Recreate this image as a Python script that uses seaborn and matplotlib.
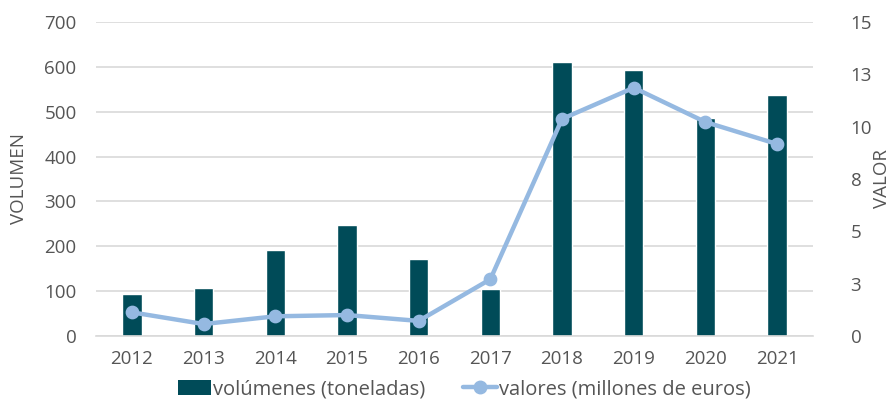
import matplotlib
matplotlib.use("Agg")
import matplotlib.pyplot as plt
import seaborn as sns
import pandas as pd
from matplotlib.ticker import FixedLocator, FuncFormatter, MultipleLocator
from matplotlib.patches import Patch
from matplotlib.lines import Line2D

years = ["2012", "2013", "2014", "2015", "2016", "2017", "2018", "2019", "2020", "2021"]
volumes = [94, 108, 191, 247, 171, 104, 610, 594, 485, 537]
values = [1.13, 0.57, 0.94, 1.0, 0.72, 2.71, 10.37, 11.86, 10.22, 9.17]

bar_color = "#004B58"
line_color = "#95B9E1"
text_color = "#555555"
grid_color = "#D9D9D9"

sns.set_theme(style="white")
plt.rcParams["font.family"] = ["Open Sans", "DejaVu Sans"]

df = pd.DataFrame({"year": years, "volume": volumes, "value": values})

fig = plt.figure(figsize=(8.94, 4.03), dpi=100)
ax = fig.add_axes([0.1074, 0.1663, 0.802, 0.7791])

sns.barplot(data=df, x="year", y="volume", color=bar_color, width=0.27,
            saturation=1, ax=ax, zorder=2)

ax.set_ylim(0, 700)
ax.yaxis.set_major_locator(MultipleLocator(100))
ax.set_xlim(-0.5, len(years) - 0.5)
ax.grid(axis="y", color=grid_color, linewidth=1.2, zorder=0)
ax.set_axisbelow(True)
for s in ["top", "right", "left"]:
    ax.spines[s].set_visible(False)
ax.spines["bottom"].set_color(grid_color)
ax.spines["bottom"].set_linewidth(1.2)
ax.tick_params(axis="x", which="major", length=0, pad=10, labelsize=13.5, labelcolor=text_color)
ax.xaxis.set_minor_locator(FixedLocator([i - 0.5 for i in range(len(years) + 1)]))
ax.tick_params(axis="x", which="minor", length=5, width=1.2, color=grid_color, direction="out")
ax.tick_params(axis="y", length=0, pad=14, labelsize=13.5, labelcolor=text_color)
ax.set_xlabel("")
ax.set_ylabel("VOLUMEN", fontsize=13.5, color=text_color)
ax.yaxis.set_label_coords(-0.095, 0.5)

ax2 = ax.twinx()
sns.pointplot(data=df, x="year", y="value", color=line_color, ax=ax2,
              markers="o", linewidth=3.2, markersize=7.5, zorder=3)
ax2.set_ylim(0, 15)
ax2.set_xlim(-0.5, len(years) - 0.5)
ax2.yaxis.set_major_locator(MultipleLocator(2.5))
ax2.yaxis.set_major_formatter(FuncFormatter(lambda v, p: str(int(v + 0.5))))
ax2.tick_params(axis="y", length=0, pad=27, labelsize=13.5, labelcolor=text_color)
for s in ["top", "right", "left", "bottom"]:
    ax2.spines[s].set_visible(False)
ax2.set_ylabel("VALOR", fontsize=13.5, color=text_color, rotation=90)
ax2.yaxis.set_label_coords(1.084, 0.5)
ax2.set_xlabel("")

handles = [
    Patch(facecolor=bar_color, edgecolor="none"),
    Line2D([0], [0], color=line_color, linewidth=3.2, marker="o", markersize=9),
]
labels = ["volúmenes (toneladas)", "valores (millones de euros)"]
fig.legend(handles, labels, loc="lower center", bbox_to_anchor=(0.519, -0.036), ncol=2,
           frameon=False, fontsize=14.5, labelcolor=text_color, handlelength=1.65,
           handletextpad=0.1, columnspacing=1.9, handleheight=0.8)

fig.savefig("out.png", dpi=100)
